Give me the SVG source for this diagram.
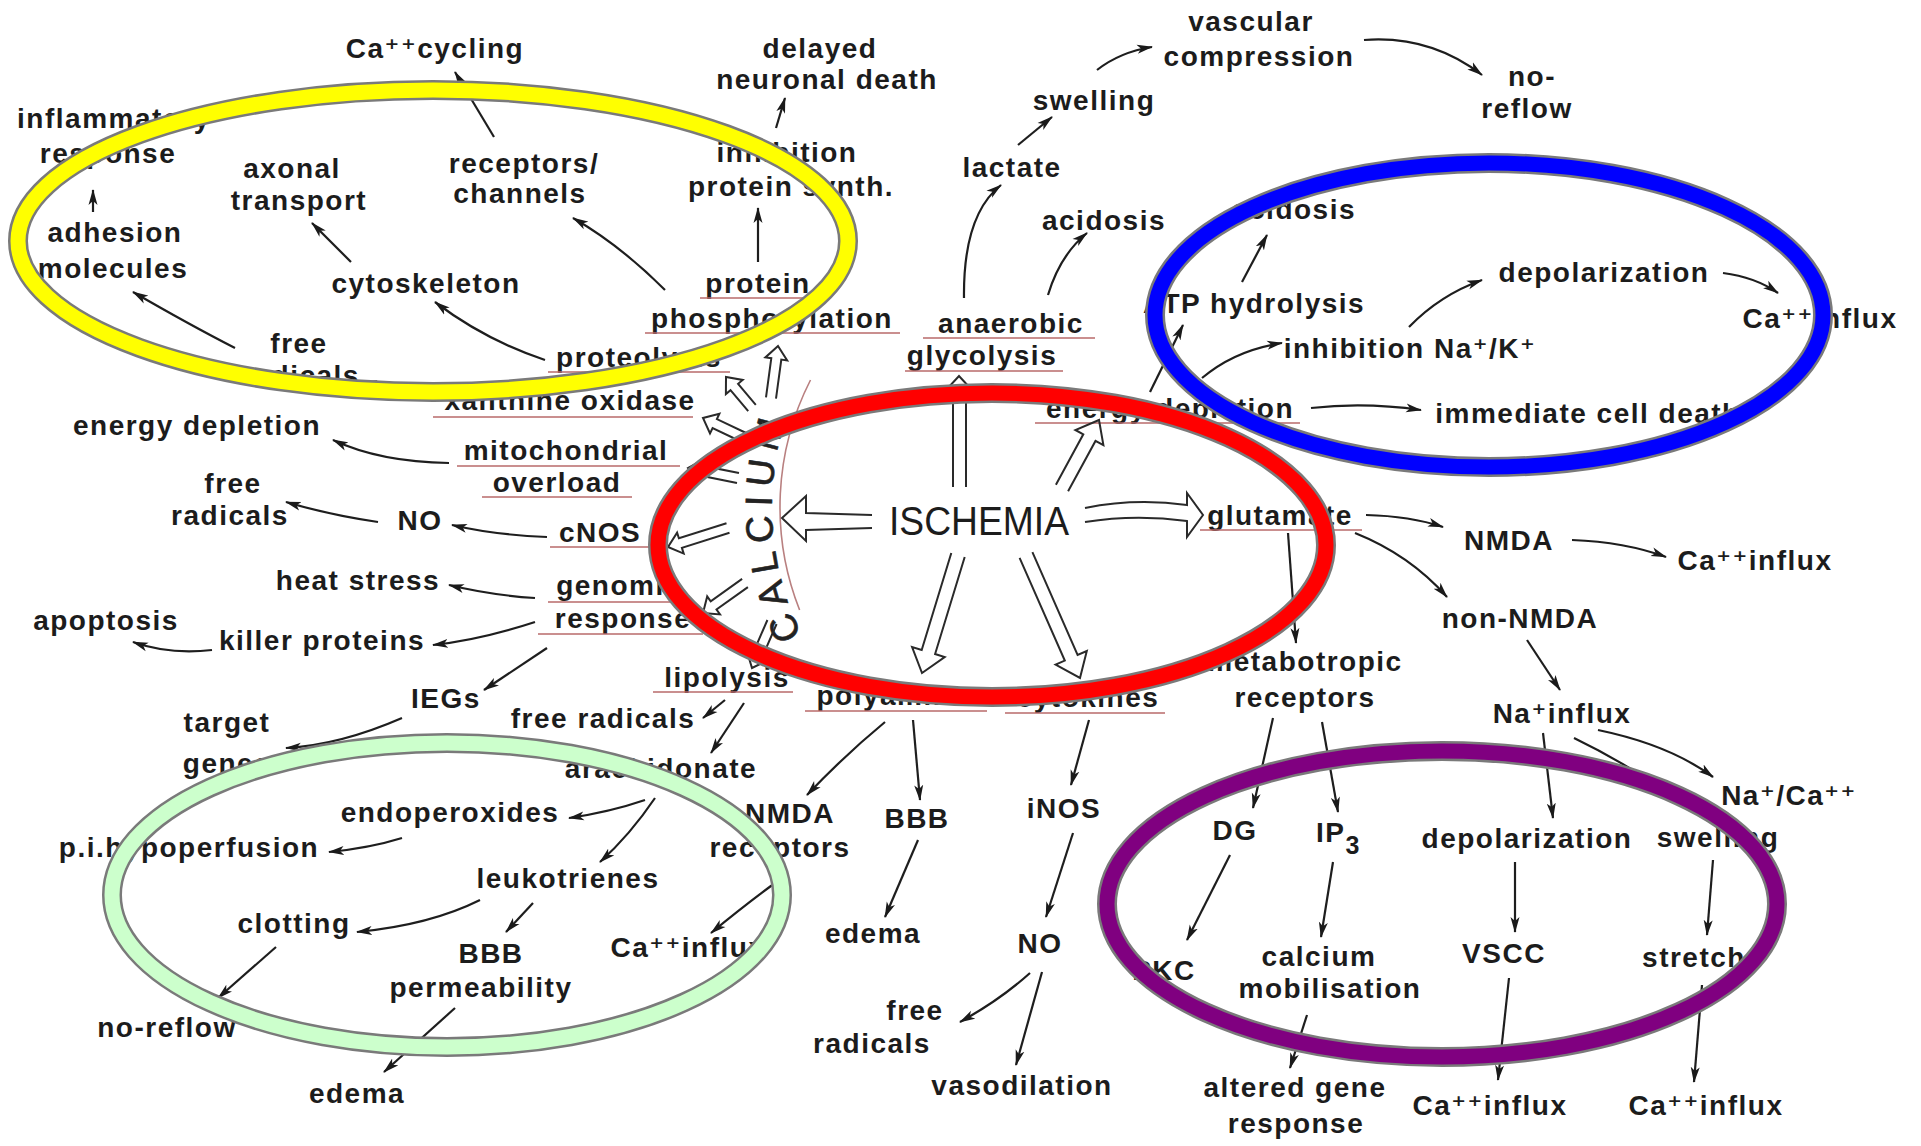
<svg xmlns="http://www.w3.org/2000/svg" width="1921" height="1146" viewBox="0 0 1921 1146">
<defs>
<style>
.t{font-family:"Liberation Sans",Arial,"DejaVu Sans",sans-serif;font-size:28px;font-weight:bold;letter-spacing:1.5px;fill:#1c1c1c;text-anchor:middle}
.big{font-family:"Liberation Sans",Arial,sans-serif;font-size:40px;font-weight:normal;fill:#1c1c1c;text-anchor:middle}
.cal{font-family:"Liberation Sans",Arial,sans-serif;font-size:38px;font-weight:normal;fill:#222;letter-spacing:8px;text-anchor:start;stroke:#222;stroke-width:0.6}
.u{stroke:#b86a6a;stroke-width:1.6;fill:none}
.c{stroke:#1e1e1e;stroke-width:2.2;fill:none;marker-end:url(#ah)}
.h{stroke:#2a2a2a;stroke-width:2;fill:none;stroke-linejoin:miter}
.arc{stroke:#b98080;stroke-width:1.6;fill:none}
.halo{fill:none;stroke:#7a7a7a;stroke-width:20}
.ring{fill:none;stroke-width:15}
</style>
<marker id="ah" viewBox="0 0 16 10" refX="15" refY="5" markerWidth="16" markerHeight="10" markerUnits="userSpaceOnUse" orient="auto"><path d="M0,0.5 L16,5 L0,9.5 L4,5 z" fill="#1a1a1a"/></marker>
</defs>
<rect width="1921" height="1146" fill="#fff"/>

<g id="nodes">
<g id="n-cacycling"><text class="t" x="435" y="58">Ca⁺⁺cycling</text></g>
<g id="n-inflammatory"><text class="t" x="114" y="128">inflammatory</text><text class="t" x="108" y="163">response</text></g>
<g id="n-adhesion"><text class="t" x="115" y="242">adhesion</text><text class="t" x="113" y="278">molecules</text></g>
<g id="n-axonal"><text class="t" x="292" y="178">axonal</text><text class="t" x="299" y="210">transport</text></g>
<g id="n-receptors1"><text class="t" x="524" y="173">receptors/</text><text class="t" x="520" y="203">channels</text></g>
<g id="n-cytoskeleton"><text class="t" x="426" y="293">cytoskeleton</text></g>
<g id="n-freerad1"><text class="t" x="299" y="353">free</text><text class="t" x="301" y="385">radicals</text></g>
<g id="n-proteolysis"><text class="t" x="639" y="367">proteolysis</text><line class="u" x1="548" y1="372" x2="730" y2="372"/></g>
<g id="n-protphos"><text class="t" x="758" y="293">protein</text><text class="t" x="772" y="328">phosphorylation</text><line class="u" x1="700" y1="298" x2="825" y2="298"/><line class="u" x1="645" y1="333" x2="900" y2="333"/></g>
<g id="n-delayed"><text class="t" x="820" y="58">delayed</text><text class="t" x="827" y="89">neuronal death</text></g>
<g id="n-inhibps"><text class="t" x="787" y="162">inhibition</text><text class="t" x="791" y="196">protein synth.</text></g>
<g id="n-lactate"><text class="t" x="1012" y="177">lactate</text></g>
<g id="n-swelling1"><text class="t" x="1094" y="110">swelling</text></g>
<g id="n-vascomp"><text class="t" x="1251" y="31">vascular</text><text class="t" x="1259" y="66">compression</text></g>
<g id="n-noreflow1"><text class="t" x="1532" y="86">no-</text><text class="t" x="1527" y="118">reflow</text></g>
<g id="n-acidosis1"><text class="t" x="1104" y="230">acidosis</text></g>
<g id="n-anaerobic"><text class="t" x="1011" y="333">anaerobic</text><text class="t" x="982" y="365">glycolysis</text><line class="u" x1="923" y1="338" x2="1095" y2="338"/><line class="u" x1="905" y1="371" x2="1063" y2="371"/></g>
<g id="n-energy1"><text class="t" x="1170" y="418">energy depletion</text><line class="u" x1="1035" y1="423" x2="1300" y2="423"/></g>
<g id="n-atp"><text class="t" x="1254" y="313">ATP hydrolysis</text></g>
<g id="n-acidosis2"><text class="t" x="1294" y="219">acidosis</text></g>
<g id="n-inhibnak"><text class="t" x="1410" y="358">inhibition Na⁺/K⁺</text></g>
<g id="n-depol1"><text class="t" x="1604" y="282">depolarization</text></g>
<g id="n-caflux1"><text class="t" x="1820" y="328">Ca⁺⁺influx</text></g>
<g id="n-immediate"><text class="t" x="1588" y="423">immediate cell death</text></g>
<g id="n-glutamate"><text class="t" x="1280" y="525">glutamate</text><line class="u" x1="1200" y1="530" x2="1362" y2="530"/></g>
<g id="n-nmda1"><text class="t" x="1509" y="550">NMDA</text></g>
<g id="n-caflux2"><text class="t" x="1755" y="570">Ca⁺⁺influx</text></g>
<g id="n-nonnmda"><text class="t" x="1520" y="628">non-NMDA</text></g>
<g id="n-nainflux"><text class="t" x="1562" y="723">Na⁺influx</text></g>
<g id="n-metab"><text class="t" x="1305" y="671">metabotropic</text><text class="t" x="1305" y="707">receptors</text></g>
<g id="n-dg"><text class="t" x="1235" y="840">DG</text></g>
<g id="n-ip3"><text class="t" x="1316" y="842" style="text-anchor:start">IP<tspan dy="12" font-size="25">3</tspan></text></g>
<g id="n-depol2"><text class="t" x="1527" y="848">depolarization</text></g>
<g id="n-naca"><text class="t" x="1789" y="805">Na⁺/Ca⁺⁺</text></g>
<g id="n-swelling2"><text class="t" x="1718" y="847">swelling</text></g>
<g id="n-vscc"><text class="t" x="1504" y="963">VSCC</text></g>
<g id="n-stretch"><text class="t" x="1694" y="967">stretch</text></g>
<g id="n-caflux3"><text class="t" x="1490" y="1115">Ca⁺⁺influx</text></g>
<g id="n-caflux4"><text class="t" x="1706" y="1115">Ca⁺⁺influx</text></g>
<g id="n-calmob"><text class="t" x="1319" y="966">calcium</text><text class="t" x="1330" y="998">mobilisation</text></g>
<g id="n-pkc"><text class="t" x="1164" y="980">PKC</text></g>
<g id="n-altgene"><text class="t" x="1295" y="1097">altered gene</text><text class="t" x="1296" y="1133">response</text></g>
<g id="n-polyamines"><text class="t" x="901" y="705">polyamines</text><line class="u" x1="805" y1="711" x2="987" y2="711"/></g>
<g id="n-cytokines"><text class="t" x="1088" y="707">cytokines</text><line class="u" x1="1005" y1="713" x2="1165" y2="713"/></g>
<g id="n-ischemia"><text class="big" x="979" y="535" textLength="180" lengthAdjust="spacingAndGlyphs">ISCHEMIA</text></g>
<g id="n-calcium"><path id="calpath" d="M802.2,635.5 A288,288 0 0 1 810.6,363" fill="none"/><text class="cal"><textPath href="#calpath">CALCIUM</textPath></text><path class="arc" d="M810.5,380 A280,280 0 0 0 799.6,610"/></g>
<g id="n-nmdarec"><text class="t" x="790" y="823">NMDA</text><text class="t" x="780" y="857">receptors</text></g>
<g id="n-bbb1"><text class="t" x="917" y="828">BBB</text></g>
<g id="n-edema1"><text class="t" x="873" y="943">edema</text></g>
<g id="n-inos"><text class="t" x="1064" y="818">iNOS</text></g>
<g id="n-no2"><text class="t" x="1040" y="953">NO</text></g>
<g id="n-freerad3"><text class="t" x="915" y="1020">free</text><text class="t" x="872" y="1053">radicals</text></g>
<g id="n-vasodil"><text class="t" x="1022" y="1095">vasodilation</text></g>
<g id="n-caflux5"><text class="t" x="688" y="957">Ca⁺⁺influx</text></g>
<g id="n-xanthine"><text class="t" x="570" y="410">xanthine oxidase</text><line class="u" x1="433" y1="417" x2="693" y2="417"/></g>
<g id="n-mito"><text class="t" x="566" y="460">mitochondrial</text><text class="t" x="557" y="492">overload</text><line class="u" x1="457" y1="466" x2="680" y2="466"/><line class="u" x1="482" y1="497" x2="632" y2="497"/></g>
<g id="n-cnos"><text class="t" x="600" y="542">cNOS</text><line class="u" x1="550" y1="547" x2="650" y2="547"/></g>
<g id="n-genomic"><text class="t" x="619" y="595">genomic</text><text class="t" x="623" y="628">response</text><line class="u" x1="548" y1="602" x2="690" y2="602"/><line class="u" x1="538" y1="634" x2="703" y2="634"/></g>
<g id="n-lipolysis"><text class="t" x="727" y="687">lipolysis</text><line class="u" x1="653" y1="692" x2="793" y2="692"/></g>
<g id="n-freerad2"><text class="t" x="603" y="728">free radicals</text></g>
<g id="n-arach"><text class="t" x="661" y="778">arachidonate</text></g>
<g id="n-iegs"><text class="t" x="446" y="708">IEGs</text></g>
<g id="n-target"><text class="t" x="227" y="732">target</text><text class="t" x="227" y="773">genes</text></g>
<g id="n-apoptosis"><text class="t" x="106" y="630">apoptosis</text></g>
<g id="n-killer"><text class="t" x="322" y="650">killer proteins</text></g>
<g id="n-heat"><text class="t" x="358" y="590">heat stress</text></g>
<g id="n-no1"><text class="t" x="420" y="530">NO</text></g>
<g id="n-freerad4"><text class="t" x="233" y="493">free</text><text class="t" x="230" y="525">radicals</text></g>
<g id="n-energy2"><text class="t" x="197" y="435">energy depletion</text></g>
<g id="n-endo"><text class="t" x="450" y="822">endoperoxides</text></g>
<g id="n-pih"><text class="t" x="189" y="857">p.i.hypoperfusion</text></g>
<g id="n-leuko"><text class="t" x="568" y="888">leukotrienes</text></g>
<g id="n-clotting"><text class="t" x="294" y="933">clotting</text></g>
<g id="n-bbb2"><text class="t" x="491" y="963">BBB</text><text class="t" x="481" y="997">permeability</text></g>
<g id="n-noreflow2"><text class="t" x="167" y="1037">no-reflow</text></g>
<g id="n-edema2"><text class="t" x="357" y="1103">edema</text></g>
</g>

<g id="connectors">
<path class="c" d="M93,212 L93,190"/>
<path class="c" d="M494,137 L455,72"/>
<path class="c" d="M351,262 L312,223"/>
<path class="c" d="M545,360 Q485,340 435,302"/>
<path class="c" d="M235,348 Q190,325 133,292"/>
<path class="c" d="M440,396 L362,382"/>
<path class="c" d="M665,290 Q620,245 573,218"/>
<path class="c" d="M758,262 L758,208"/>
<path class="c" d="M776,128 L785,98"/>
<path class="c" d="M964,298 Q963,215 1001,185"/>
<path class="c" d="M1018,145 L1052,117"/>
<path class="c" d="M1097,70 Q1120,52 1152,47"/>
<path class="c" d="M1364,40 Q1430,35 1482,75"/>
<path class="c" d="M1048,295 Q1060,255 1087,233"/>
<path class="c" d="M1150,392 L1183,325"/>
<path class="c" d="M1242,282 L1267,235"/>
<path class="c" d="M1202,378 Q1235,350 1282,343"/>
<path class="c" d="M1409,327 Q1440,295 1482,280"/>
<path class="c" d="M1723,273 Q1755,277 1778,293"/>
<path class="c" d="M1311,408 Q1365,402 1421,410"/>
<path class="c" d="M1366,515 Q1410,516 1443,527"/>
<path class="c" d="M1572,540 Q1625,542 1666,557"/>
<path class="c" d="M1355,533 Q1410,555 1447,597"/>
<path class="c" d="M1288,533 L1296,643"/>
<path class="c" d="M1527,640 L1560,690"/>
<path class="c" d="M1273,718 L1253,808"/>
<path class="c" d="M1322,722 L1338,812"/>
<path class="c" d="M1543,733 L1553,818"/>
<path class="c" d="M1598,730 Q1670,745 1713,777"/>
<path class="c" d="M1574,738 Q1640,770 1690,810"/>
<path class="c" d="M1515,862 L1515,932"/>
<path class="c" d="M1713,860 L1707,935"/>
<path class="c" d="M1509,978 L1498,1080"/>
<path class="c" d="M1702,985 L1694,1082"/>
<path class="c" d="M1333,862 L1321,937"/>
<path class="c" d="M1230,855 L1187,940"/>
<path class="c" d="M1307,1015 L1290,1068"/>
<path class="c" d="M1089,720 L1071,785"/>
<path class="c" d="M1073,833 L1046,917"/>
<path class="c" d="M1030,973 Q1000,1000 960,1022"/>
<path class="c" d="M1042,972 L1016,1065"/>
<path class="c" d="M913,720 L920,800"/>
<path class="c" d="M918,840 L885,917"/>
<path class="c" d="M885,722 Q845,755 807,795"/>
<path class="c" d="M775,883 Q745,905 711,933"/>
<path class="c" d="M725,700 L703,718"/>
<path class="c" d="M744,703 L711,753"/>
<path class="c" d="M645,800 Q610,812 569,818"/>
<path class="c" d="M655,798 Q630,835 600,862"/>
<path class="c" d="M402,838 Q370,848 329,852"/>
<path class="c" d="M480,900 Q430,925 357,932"/>
<path class="c" d="M533,903 L506,932"/>
<path class="c" d="M276,947 L218,998"/>
<path class="c" d="M455,1008 L384,1072"/>
<path class="c" d="M547,648 L484,690"/>
<path class="c" d="M402,718 Q340,745 286,748"/>
<path class="c" d="M535,622 Q480,640 433,645"/>
<path class="c" d="M212,650 Q170,655 133,642"/>
<path class="c" d="M535,598 Q490,595 449,585"/>
<path class="c" d="M547,537 Q495,535 452,525"/>
<path class="c" d="M378,522 Q330,515 286,502"/>
<path class="c" d="M449,463 Q380,462 333,440"/>
<path class="h" d="M953,487 L953,390 L946,390 L959,376 L972,390 L966,390 L966,487"/>
<path class="h" d="M1055.9,484.7 L1083.3,434.3 L1075.4,430 L1099,420 L1103.4,445.2 L1095.5,440.9 L1068.1,491.3"/>
<path class="h" d="M1085,508 Q1135,498 1187,505 L1187,493 L1203,515 L1187,537 L1187,521 Q1135,514 1085,522"/>
<path class="h" d="M872,515 L806,513 L806,496 L782,518 L806,541 L806,530 L872,528"/>
<path class="h" d="M951.3,553 L921.7,650 L912.1,647 L922,673 L944.7,657 L935.1,654 L964.7,557"/>
<path class="h" d="M1019.6,557.8 L1064.8,660.6 L1055.6,664.6 L1080,678 L1086.8,651 L1077.6,655 L1032.4,552.2"/>
<path class="h" d="M766,397.3 L771.3,358.2 L765.4,357.4 L778,346 L787.2,360.4 L781.3,359.6 L776,398.7"/>
<path class="h" d="M748.2,411.2 L730.5,390.2 L725.9,394.1 L726,377 L742.7,379.9 L738.1,383.8 L755.8,404.8"/>
<path class="h" d="M742.9,442.5 L712.6,428.1 L710,433.5 L703,418 L719.4,413.7 L716.9,419.1 L747.2,433.5"/>
<path class="h" d="M737,482.9 L699.8,475.4 L698.6,481.3 L688,468 L703,459.7 L701.8,465.6 L739,473.1"/>
<path class="h" d="M729.5,532.8 L681.9,547.9 L683.7,553.6 L668,547 L677.1,532.6 L678.9,538.3 L726.5,523.2"/>
<path class="h" d="M747.9,587.1 L716.5,609.5 L720,614.4 L703,613 L707.2,596.4 L710.7,601.3 L742.1,578.9"/>
<path class="h" d="M776.6,624 L761.8,658.1 L767.3,660.5 L752,668 L747.1,651.7 L752.6,654.1 L767.4,620"/>
</g>

<g id="highlights">
<g id="ring-yellow"><ellipse class="halo" cx="433" cy="241" rx="415" ry="151"/><ellipse class="ring" cx="433" cy="241" rx="415" ry="151" stroke="#ffff00"/></g>
<g id="ring-blue"><ellipse class="halo" cx="1489" cy="315" rx="334" ry="152"/><ellipse class="ring" cx="1489" cy="315" rx="334" ry="152" stroke="#0000ff"/></g>
<g id="ring-red"><ellipse class="halo" cx="992" cy="545" rx="334" ry="152"/><ellipse class="ring" cx="992" cy="545" rx="334" ry="152" stroke="#ff0000"/></g>
<g id="ring-green"><ellipse class="halo" cx="447" cy="895" rx="335" ry="152"/><ellipse class="ring" cx="447" cy="895" rx="335" ry="152" stroke="#ccffcc"/></g>
<g id="ring-purple"><ellipse class="halo" cx="1442" cy="904" rx="335" ry="153"/><ellipse class="ring" cx="1442" cy="904" rx="335" ry="153" stroke="#800080"/></g>
</g>
</svg>
